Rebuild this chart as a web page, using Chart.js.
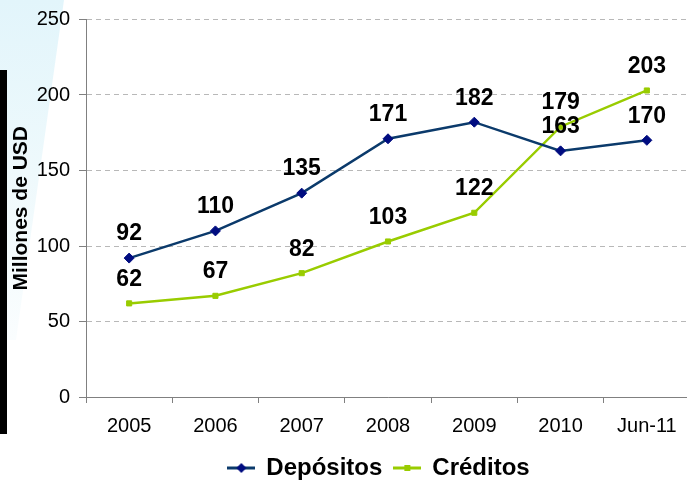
<!DOCTYPE html>
<html>
<head>
<meta charset="utf-8">
<script src="https://cdn.jsdelivr.net/npm/chart.js@4"></script>
<style>
  html, body { margin: 0; padding: 0; background: #fff; overflow: hidden; width: 687px; height: 480px; }
  #wrap { position: absolute; left: 0; top: 0; width: 696px; height: 480px; }
  #cyan { position: absolute; left: 0; top: 0; width: 64px; height: 340px;
          background: linear-gradient(to bottom, #e2f5fb 0%, #eef9fc 50%, #fafdfe 100%);
          clip-path: polygon(0 0, 100% 0, 25% 100%, 0 100%); }
  #bar { position: absolute; left: 0; top: 70px; width: 7px; height: 364px; background: #000; }
  canvas { position: absolute; left: 0; top: 0; }
</style>
</head>
<body>
<div id="wrap">
  <div id="cyan"></div>
  <div id="bar"></div>
  <canvas id="c" width="696" height="480"></canvas>
</div>
<script>
const categories = ['2005', '2006', '2007', '2008', '2009', '2010', 'Jun-11'];
const depositos = [92, 110, 135, 171, 182, 163, 170];
const creditos = [62, 67, 82, 103, 122, 179, 203];
const yTicks = [0, 50, 100, 150, 200, 250];
const seriesNames = ['Depósitos', 'Créditos'];
const yTitle = 'Millones de USD';

const FONT = "'Liberation Sans', Arial, Helvetica, sans-serif";
const DEP_LINE = '#0b3a6b';
const DEP_MARK = '#000c80';
const CRE_LINE = '#99cc00';
const CRE_MARK = '#99cc00';

function legendIcon(lineColor, markColor, style) {
  const cv = document.createElement('canvas');
  cv.width = 28; cv.height = 12;
  const g = cv.getContext('2d');
  g.strokeStyle = lineColor; g.lineWidth = 3;
  g.beginPath(); g.moveTo(0, 6); g.lineTo(28, 6); g.stroke();
  g.fillStyle = markColor;
  if (style === 'diamond') {
    g.beginPath(); g.moveTo(14, 1); g.lineTo(19, 6); g.lineTo(14, 11); g.lineTo(9, 6); g.closePath(); g.fill();
  } else {
    g.fillRect(11, 3, 6, 6);
  }
  return cv;
}
const icons = [legendIcon(DEP_LINE, DEP_MARK, 'diamond'), legendIcon(CRE_LINE, CRE_MARK, 'square')];

const dataLabels = {
  id: 'dataLabels',
  afterDatasetsDraw(chart) {
    const ctx = chart.ctx;
    ctx.save();
    ctx.font = 'bold 23px ' + FONT;
    ctx.fillStyle = '#000';
    ctx.textAlign = 'center';
    ctx.textBaseline = 'middle';
    chart.data.datasets.forEach((ds, di) => {
      const meta = chart.getDatasetMeta(di);
      meta.data.forEach((pt, i) => {
        ctx.fillText(String(ds.data[i]), pt.x, pt.y - 24);
      });
    });
    ctx.restore();
  }
};

const legendPlace = {
  id: 'legendPlace',
  beforeDraw(chart) {
    const lg = chart.legend;
    const h = lg.bottom - lg.top;
    lg.left = 68; lg.right = 690;
    lg.top = 444; lg.bottom = 444 + h;
  }
};

new Chart(document.getElementById('c'), {
  type: 'line',
  data: {
    labels: categories,
    datasets: [
      { label: seriesNames[0], data: depositos, borderColor: DEP_LINE, backgroundColor: DEP_MARK,
        borderWidth: 2.5, pointStyle: 'rectRot', pointRadius: 5, pointBackgroundColor: DEP_MARK,
        pointBorderColor: DEP_MARK, pointBorderWidth: 1, tension: 0 },
      { label: seriesNames[1], data: creditos, borderColor: CRE_LINE, backgroundColor: CRE_MARK,
        borderWidth: 2.5, pointStyle: 'rect', pointRadius: 3.6, pointBackgroundColor: CRE_MARK,
        pointBorderColor: CRE_MARK, pointBorderWidth: 1, tension: 0 }
    ]
  },
  options: {
    responsive: false,
    animation: false,
    layout: { padding: { top: 19.5, right: 0, bottom: 2, left: 0 } },
    plugins: {
      tooltip: { enabled: false },
      legend: {
        position: 'bottom',
        labels: {
          usePointStyle: true,
          pointStyleWidth: 26,
          padding: 12,
          color: '#000',
          font: { family: FONT, size: 24, weight: 'bold' },
          generateLabels(chart) {
            return chart.data.datasets.map((ds, i) => ({
              text: ds.label, pointStyle: icons[i], fillStyle: ds.borderColor,
              strokeStyle: ds.borderColor, lineWidth: 0, hidden: false, datasetIndex: i, fontColor: '#000'
            }));
          }
        }
      }
    },
    scales: {
      x: {
        type: 'category',
        offset: true,
        grid: { offset: true, drawOnChartArea: false, drawTicks: true, tickLength: 6, color: '#808080' },
        border: { display: true, color: '#808080', width: 1 },
        ticks: { color: '#000', font: { family: FONT, size: 20 }, padding: 11, maxRotation: 0, autoSkip: false },
        afterFit(s) { s.height = 35; }
      },
      y: {
        min: 0, max: 250,
        afterBuildTicks(s) { s.ticks = yTicks.map(v => ({ value: v })); },
        grid: { color: '#b8b8b8', drawTicks: true, tickLength: 7, tickColor: '#808080', lineWidth: 1 },
        border: { display: true, color: '#808080', width: 1, dash: [5, 4] },
        ticks: { color: '#000', font: { family: FONT, size: 20 }, padding: 9 },
        title: { display: true, text: yTitle, color: '#000', font: { family: FONT, size: 21, weight: 'bold' }, padding: { top: 9, bottom: 0 } },
        afterFit(s) { s.width = 86; s.paddingTop = 0; s.paddingBottom = 0; }
      }
    }
  },
  plugins: [dataLabels, legendPlace]
});
</script>
</body>
</html>
